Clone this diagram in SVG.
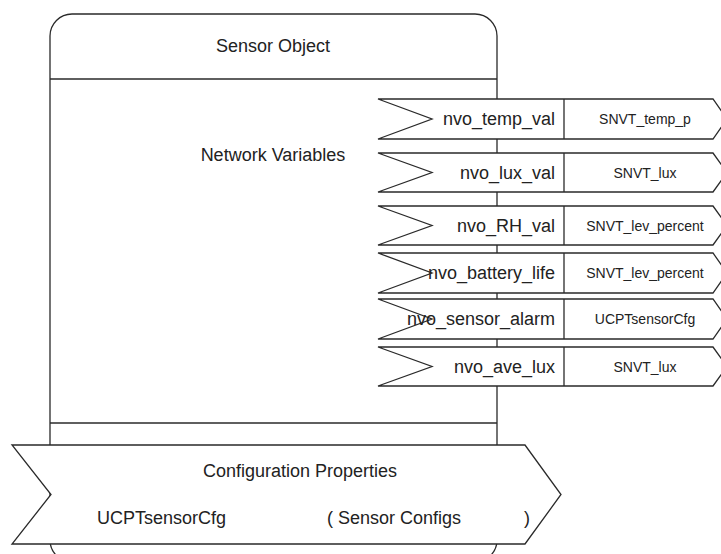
<svg xmlns="http://www.w3.org/2000/svg" width="721" height="554" viewBox="0 0 721 554">
<style>
.sh{fill:#fff;stroke:#2a2a2a;stroke-width:1.3}
.ln{stroke:#2a2a2a;stroke-width:1.3;fill:none}
text{font-family:"Liberation Sans",Arial,sans-serif;fill:#222}
.big{font-size:18px}
.sm{font-size:14px}
</style>
<rect width="721" height="554" fill="#fff"/>
<g id="sensor-object">
<rect class="sh" x="50" y="14" width="447" height="548" rx="22" ry="22"/>
<line class="ln" x1="50" y1="79" x2="497" y2="79"/>
<line class="ln" x1="50" y1="423" x2="497" y2="423"/>
<text class="big" x="273" y="52" text-anchor="middle">Sensor Object</text>
<text class="big" x="273" y="161" text-anchor="middle">Network Variables</text>
</g>
<g id="nv-temp">
<path class="sh" d="M378,99 L713,99 L727,119 L713,139 L378,139 L432,119 Z"/>
<line class="ln" x1="564" y1="99" x2="564" y2="139"/>
<text class="big" x="555" y="125" text-anchor="end">nvo_temp_val</text>
<text class="sm" x="645" y="124" text-anchor="middle">SNVT_temp_p</text>
</g>
<g id="nv-lux">
<path class="sh" d="M378,153 L713,153 L727,172.5 L713,192 L378,192 L432,172.5 Z"/>
<line class="ln" x1="564" y1="153" x2="564" y2="192"/>
<text class="big" x="555" y="178.5" text-anchor="end">nvo_lux_val</text>
<text class="sm" x="645" y="177.5" text-anchor="middle">SNVT_lux</text>
</g>
<g id="nv-rh">
<path class="sh" d="M378,206 L713,206 L727,225.5 L713,245 L378,245 L432,225.5 Z"/>
<line class="ln" x1="564" y1="206" x2="564" y2="245"/>
<text class="big" x="555" y="231.5" text-anchor="end">nvo_RH_val</text>
<text class="sm" x="645" y="230.5" text-anchor="middle">SNVT_lev_percent</text>
</g>
<g id="nv-battery">
<path class="sh" d="M378,253 L713,253 L727,273 L713,293 L378,293 L432,273 Z"/>
<line class="ln" x1="564" y1="253" x2="564" y2="293"/>
<text class="big" x="555" y="279" text-anchor="end">nvo_battery_life</text>
<text class="sm" x="645" y="278" text-anchor="middle">SNVT_lev_percent</text>
</g>
<g id="nv-alarm">
<path class="sh" d="M378,299 L713,299 L727,319 L713,339 L378,339 L432,319 Z"/>
<line class="ln" x1="564" y1="299" x2="564" y2="339"/>
<text class="big" x="555" y="325" text-anchor="end">nvo_sensor_alarm</text>
<text class="sm" x="645" y="324" text-anchor="middle">UCPTsensorCfg</text>
</g>
<g id="nv-avelux">
<path class="sh" d="M378,347 L713,347 L727,366.5 L713,386 L378,386 L432,366.5 Z"/>
<line class="ln" x1="564" y1="347" x2="564" y2="386"/>
<text class="big" x="555" y="372.5" text-anchor="end">nvo_ave_lux</text>
<text class="sm" x="645" y="371.5" text-anchor="middle">SNVT_lux</text>
</g>
<g id="config-properties">
<path class="sh" d="M12,445 L525,445 L561,494.5 L525,544 L12,544 L51,494.5 Z"/>
<text class="big" x="300" y="477" text-anchor="middle">Configuration Properties</text>
<text class="big" x="97" y="524">UCPTsensorCfg</text>
<text class="big" x="327" y="524">( Sensor Configs</text>
<text class="big" x="524" y="524">)</text>
</g>
</svg>
